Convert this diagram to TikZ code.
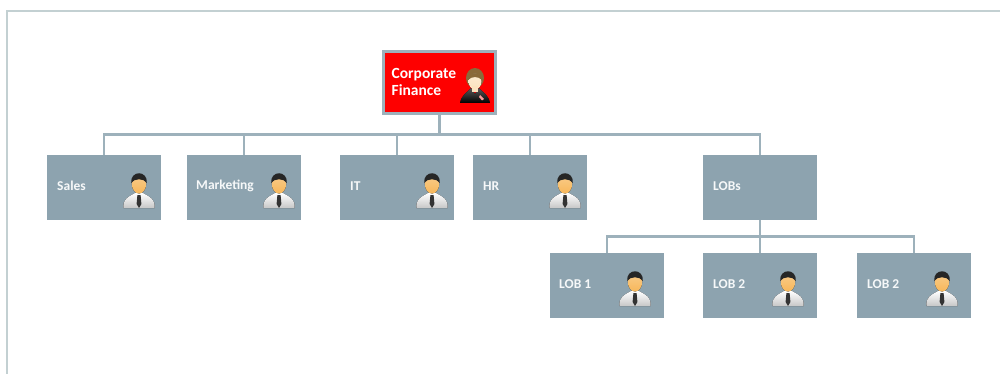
\documentclass[tikz,border=0pt]{standalone}
\usepackage{fontspec}
\setmainfont{Carlito}
\definecolor{boxfill}{HTML}{8DA3AF}
\definecolor{linecol}{HTML}{9DB1BB}
\definecolor{framecol}{HTML}{C3D0D2}
\definecolor{skin}{HTML}{F7B75A}
\definecolor{skinpale}{HTML}{FBE3BE}
\definecolor{hairbrown}{HTML}{8A6A3A}
\definecolor{rootred}{HTML}{FE0000}
\tikzset{
  x=1pt,y=-1pt,
  unitbox/.style={draw=none,fill=boxfill,minimum width=114pt,minimum height=65pt,inner sep=0pt,outer sep=0pt},
  rootbox/.style={draw=linecol,line width=2.4pt,fill=rootred,minimum width=112pt,minimum height=62pt,inner sep=0pt,outer sep=0pt},
  unitlabel/.style={text=white!92!boxfill,font=\bfseries\fontsize{13.5}{16}\selectfont,anchor=west,inner sep=0pt},
  rootlabel/.style={text=white,font=\bfseries\fontsize{15.5}{17.5}\selectfont,anchor=west,inner sep=0pt,align=left},
  conn/.style={draw=linecol,line width=2.4pt},
  frameline/.style={draw=framecol,line width=2pt},
  manicon/.pic={
    \fill[top color=white,bottom color=black!22] (-15.5,18) .. controls (-16.5,9) and (-11,7) .. (-4,3) -- (4,3) .. controls (11,7) and (16.5,9) .. (15.5,18) -- cycle;
    \fill[black!80] (-1.6,5) -- (1.6,5) -- (2.4,14) -- (0,18) -- (-2.4,14) -- cycle;
    \fill[top color=skin!70!white,bottom color=skin] (0,-6) ellipse (7.2 and 9.5);
    \fill[black!85] (-7.8,-7) .. controls (-9,-20) and (9,-20) .. (7.8,-7) .. controls (5,-12) and (-5,-12) .. (-7.8,-7) -- cycle;
  },
  womanicon/.pic={
    \fill[hairbrown] (0,-8) ellipse (9 and 10);
    \fill[top color=black!65,bottom color=black] (-15,17) .. controls (-13,8) and (-8,7) .. (-4,2) -- (0,8) -- (4,2) .. controls (8,7) and (13,8) .. (15,17) -- cycle;
    \fill[top color=skinpale!70!white,bottom color=skinpale] (0,-4.5) ellipse (6.5 and 8);
    \fill[skinpale] (-3,0) rectangle (3,6);
    \fill[hairbrown] (-7,-6) .. controls (-6,-15) and (6,-15) .. (7,-6) .. controls (3,-10) and (-3,-10) .. (-7,-6) -- cycle;
    \fill[white!60!rootred] (5,9) -- (9,13) -- (7,14.5) -- (4,11) -- cycle;
  }
}
\begin{document}
\begin{tikzpicture}
\useasboundingbox (0,0) rectangle (1000,374);
\fill[white] (0,0) rectangle (1000,374);
\coordinate (frameA) at (6.5,374);
\coordinate (frameB) at (6.5,11.5);
\coordinate (frameC) at (1000,11.5);
\draw[frameline] (frameA) -- (frameB) -- (frameC);

\node[rootbox] (root) at (439.5,82.5) {};
\node[unitbox] (sales) at (104,187.5) {};
\node[unitbox] (marketing) at (244,187.5) {};
\node[unitbox] (it) at (397,187.5) {};
\node[unitbox] (hr) at (530,187.5) {};
\node[unitbox] (lobs) at (760,187.5) {};
\node[unitbox] (lobone) at (607,285.5) {};
\node[unitbox] (lobtwo) at (760,285.5) {};
\node[unitbox] (lobthree) at (914,285.5) {};

\coordinate (busA) at (439.5,134.5);
\coordinate (busB) at (760,236.5);
\draw[conn] (root.south) -- (busA);
\draw[conn] (sales.north) |- (busA);
\draw[conn] (marketing.north) |- (busA);
\draw[conn] (it.north) |- (busA);
\draw[conn] (hr.north) |- (busA);
\draw[conn] (lobs.north) |- (busA);
\draw[conn] (lobs.south) -- (lobtwo.north);
\draw[conn] (lobone.north) |- (busB);
\draw[conn] (lobthree.north) |- (busB);

\node[rootlabel] (rootlab) at (391.5,82) {Corporate\\Finance};
\node[unitlabel] (saleslab) at (57,186) {Sales};
\node[unitlabel] (marketinglab) at (196,186) {Marketing};
\node[unitlabel] (itlab) at (350,186) {IT};
\node[unitlabel] (hrlab) at (483,186) {HR};
\node[unitlabel] (lobslab) at (713,186) {LOBs};
\node[unitlabel] (lobonelab) at (559,284) {LOB 1};
\node[unitlabel] (lobtwolab) at (713,284) {LOB 2};
\node[unitlabel] (lobthreelab) at (867,284) {LOB 2};

\pic at (475,86) {womanicon};
\pic at (139,190) {manicon};
\pic at (279,190) {manicon};
\pic at (432,190) {manicon};
\pic at (565,190) {manicon};
\pic at (635,288) {manicon};
\pic at (788,288) {manicon};
\pic at (942,288) {manicon};
\end{tikzpicture}
\end{document}
